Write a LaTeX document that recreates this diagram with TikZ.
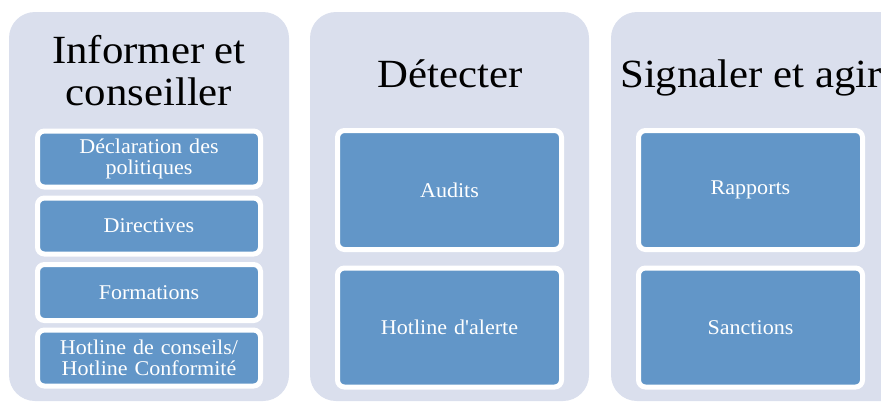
\documentclass[tikz,border=0pt]{standalone}
\usepackage{fontspec}
\newfontfamily\titlefont[FakeStretch=1.07]{Liberation Serif}
\newfontfamily\boxfont[FakeStretch=1.05]{Liberation Serif}
\definecolor{panelbg}{RGB}{218,223,237}
\definecolor{boxblue}{RGB}{98,150,200}
\tikzset{
  panel/.style={fill=panelbg, rounded corners=26pt},
  titletext/.style={align=center, text=black, inner sep=0pt, font=\fontsize{40}{42}\selectfont\titlefont},
  itembox/.style={draw=white, line width=5pt, fill=boxblue, rounded corners=7pt, text=white,
    align=center, inner sep=0pt, text width=214pt, minimum width=223pt,
    font=\fontsize{21}{21}\selectfont\boxfont},
  smallbox/.style={itembox, minimum height=56pt},
  bigbox/.style={itembox, minimum height=119pt}
}
\begin{document}
\begin{tikzpicture}[x=1pt,y=-1pt]
\path[use as bounding box] (0,0) rectangle (881,402);
\clip (0,0) rectangle (881,402);
% panels
\path[panel] (9,12) rectangle (289,401);
\path[panel] (310,12) rectangle (589,401);
\path[panel] (611,12) rectangle (930,401);
% titles
\node[titletext, anchor=base] (t1) at (149,105) {Informer et\\conseiller};
\node[titletext, anchor=base] (t2) at (450,87) {Détecter};
\node[titletext, anchor=base] (t3) at (751,87) {Signaler et agir};
% column 1
\node[smallbox] (b1) at (149,159) {Déclaration des\\politiques};
\node[smallbox] (b2) at (149,226) {Directives};
\node[smallbox] (b3) at (149,292.5) {Formations};
\node[smallbox] (b4) at (149,358) {Hotline de conseils/\\Hotline Conformité};
% column 2
\node[bigbox, minimum width=224pt] (c1) at (449.5,190) {Audits};
\node[bigbox, minimum width=224pt] (c2) at (449.5,327.5) {Hotline d'alerte};
% column 3
\node[bigbox, minimum width=224pt] (d1) at (750.5,190) {Rapports};
\node[bigbox, minimum width=224pt] (d2) at (750.5,327.5) {Sanctions};
\end{tikzpicture}
\end{document}
